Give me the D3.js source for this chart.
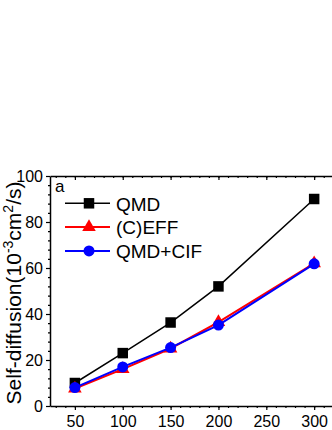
<!DOCTYPE html>
<html>
<head>
<meta charset="utf-8">
<script src="https://cdn.jsdelivr.net/npm/d3@7"></script>
<style>
  body { margin: 0; background: #fff; }
  text { font-family: "Liberation Sans", Arial, sans-serif; fill: #000; }
</style>
</head>
<body>
<svg id="chart" width="332" height="430"></svg>
<script>
// data
var temps = [50, 100, 150, 200, 300];
var qmd = [10, 23, 36.3, 52, 90];
var ceff = [7.6, 16, 25, 36.5, 62];
var qmdCif = [8, 17, 25.4, 35.2, 61.8];
var xTicks = [50, 100, 150, 200, 250, 300];
var yTicks = [0, 20, 40, 60, 80, 100];
var seriesNames = ['QMD', '(C)EFF', 'QMD+CIF'];

var draw_chart = function() {
  var svg = d3.select('#chart');
  var plotLeft = 50, plotRight = 340, plotTop = 176, plotBottom = 406;

  var xScale = d3.scaleLinear().domain([24, 327]).range([plotLeft, plotRight]);
  var yScale = d3.scaleLinear().domain([0, 100]).range([plotBottom, plotTop]);

  var series = [
    {name: seriesNames[0], values: qmd, color: '#000000', shape: d3.symbolSquare, size: 110, width: 1.5},
    {name: seriesNames[1], values: ceff, color: '#ff0000', shape: d3.symbolTriangle, size: 80, width: 2},
    {name: seriesNames[2], values: qmdCif, color: '#0000ff', shape: d3.symbolCircle, size: 95, width: 2}
  ];

  // bottom axis, ticks outward
  var xMinor = d3.range(30, 330, 10);
  svg.append('g')
    .attr('transform', 'translate(0,' + plotBottom + ')')
    .call(d3.axisBottom(xScale).tickValues(xMinor).tickSize(2).tickFormat(''))
    .call(function(g){ g.select('.domain').remove(); });
  svg.append('g')
    .attr('class', 'x axis')
    .attr('transform', 'translate(0,' + plotBottom + ')')
    .call(d3.axisBottom(xScale).tickValues(xTicks).tickSize(4).tickPadding(6).tickSizeOuter(0));

  // top axis, ticks inward
  svg.append('g')
    .attr('transform', 'translate(0,' + plotTop + ')')
    .call(d3.axisBottom(xScale).tickValues(xMinor).tickSize(2).tickFormat(''))
    .call(function(g){ g.select('.domain').remove(); });
  svg.append('g')
    .attr('transform', 'translate(0,' + plotTop + ')')
    .call(d3.axisBottom(xScale).tickValues(xTicks).tickSize(4).tickFormat('').tickSizeOuter(0));

  // left axis
  var yMinor = d3.range(0, 101, 4);
  svg.append('g')
    .attr('transform', 'translate(' + plotLeft + ',0)')
    .call(d3.axisLeft(yScale).tickValues(yMinor).tickSize(2).tickFormat(''))
    .call(function(g){ g.select('.domain').remove(); });
  svg.append('g')
    .attr('class', 'y axis')
    .attr('transform', 'translate(' + plotLeft + ',0)')
    .call(d3.axisLeft(yScale).tickValues(yTicks).tickSize(4).tickPadding(3).tickSizeOuter(0));

  svg.selectAll('.axis text')
    .style('font-size', '16px')
    .style('font-family', '"Liberation Sans", Arial, sans-serif');
  svg.selectAll('.domain').attr('stroke-width', 1.5);
  svg.selectAll('.tick line').attr('stroke-width', 1.2);

  // lines + markers
  var line = d3.line()
    .x(function(d, i) { return xScale(temps[i]); })
    .y(function(d) { return yScale(d); });

  series.forEach(function(s) {
    svg.append('path')
      .datum(s.values)
      .attr('fill', 'none')
      .attr('stroke', s.color)
      .attr('stroke-width', s.width)
      .attr('d', line);
    svg.selectAll(null)
      .data(s.values)
      .enter().append('path')
      .attr('transform', function(d, i) { return 'translate(' + xScale(temps[i]) + ',' + yScale(d) + ')'; })
      .attr('d', d3.symbol().type(s.shape).size(s.size))
      .attr('fill', s.color);
  });

  // legend
  series.forEach(function(s, i) {
    var ly = 203.3 + i * 23.8;
    svg.append('line')
      .attr('x1', 65).attr('x2', 110)
      .attr('y1', ly).attr('y2', ly)
      .attr('stroke', s.color)
      .attr('stroke-width', s.width);
    svg.append('path')
      .attr('transform', 'translate(89,' + ly + ')')
      .attr('d', d3.symbol().type(s.shape).size(s.size))
      .attr('fill', s.color);
    svg.append('text')
      .text(s.name)
      .attr('x', 116)
      .attr('y', ly + 7.2)
      .style('font-size', '19px');
  });

  svg.append('text')
    .text('a')
    .attr('x', 55)
    .attr('y', 192)
    .style('font-size', '17px');

  // y axis title
  var yt = svg.append('text')
    .attr('transform', 'translate(21,293) rotate(-90)')
    .attr('text-anchor', 'middle')
    .style('font-size', '21px');
  yt.append('tspan').text('Self-diffusion(10');
  yt.append('tspan').text('-3').attr('dy', -8).style('font-size', '14px');
  yt.append('tspan').text('cm').attr('dy', 8);
  yt.append('tspan').text('2').attr('dy', -8).style('font-size', '14px');
  yt.append('tspan').text('/s)').attr('dy', 8);
};

draw_chart();
</script>
</body>
</html>
